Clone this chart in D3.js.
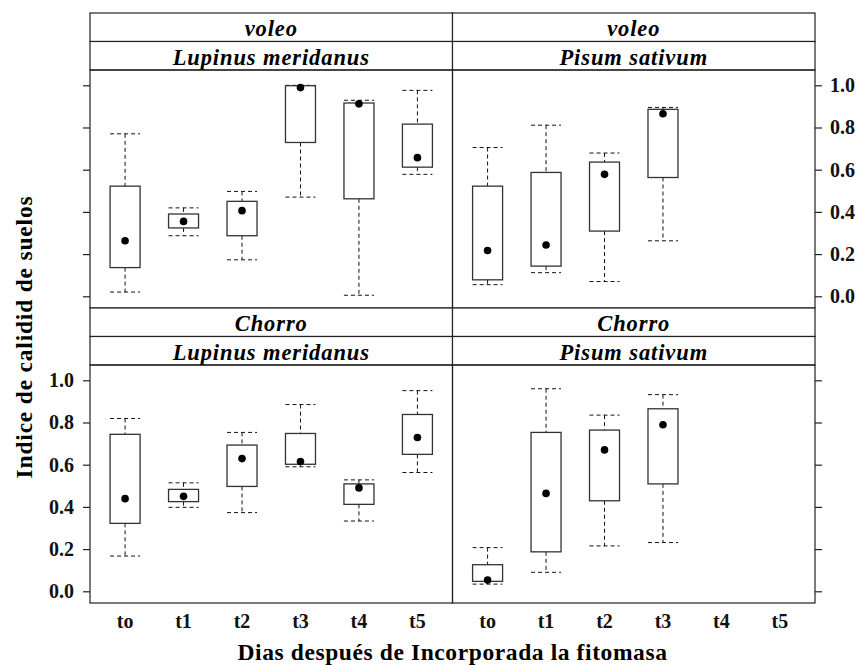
<!DOCTYPE html>
<html>
<head>
<meta charset="utf-8">
<script src="https://cdn.jsdelivr.net/npm/d3@7"></script>
<style>
body { margin: 0; background: #fff; }
text { font-family: "Liberation Serif", "Times New Roman", serif; font-weight: bold; }
</style>
</head>
<body>
<div id="chart"></div>
<script>
// categories (dias)
var dias = ["to", "t1", "t2", "t3", "t4", "t5"];
var yTicks = [0.0, 0.2, 0.4, 0.6, 0.8, 1.0];
var metodos = ["voleo", "Chorro"];
var especies = ["Lupinus meridanus", "Pisum sativum"];

// each row: [bigote inferior, Q1, Q3, bigote superior, punto]
var voleoLupinus = [
  [0.02, 0.136, 0.522, 0.77, 0.263],
  [0.287, 0.324, 0.39, 0.419, 0.355],
  [0.173, 0.287, 0.45, 0.497, 0.406],
  [0.47, 0.729, 0.998, 1.0, 0.989],
  [0.005, 0.462, 0.916, 0.929, 0.912],
  [0.578, 0.612, 0.816, 0.976, 0.657]
];
var voleoPisum = [
  [0.055, 0.078, 0.522, 0.705, 0.217],
  [0.112, 0.143, 0.587, 0.811, 0.243],
  [0.07, 0.309, 0.636, 0.679, 0.578],
  [0.263, 0.563, 0.886, 0.895, 0.865]
];
var chorroLupinus = [
  [0.167, 0.322, 0.744, 0.819, 0.439],
  [0.398, 0.425, 0.483, 0.514, 0.45],
  [0.373, 0.497, 0.693, 0.753, 0.629],
  [0.59, 0.602, 0.748, 0.885, 0.615],
  [0.333, 0.412, 0.509, 0.528, 0.49],
  [0.563, 0.649, 0.838, 0.951, 0.729]
];
var chorroPisum = [
  [0.034, 0.047, 0.126, 0.207, 0.053],
  [0.09, 0.187, 0.753, 0.96, 0.464],
  [0.215, 0.429, 0.764, 0.835, 0.67],
  [0.231, 0.509, 0.865, 0.932, 0.789]
];

var width = 857, height = 665;
var mLeft = 90, mRight = 815, mTop = 13;
var stripH = 28.5, panelH = 238;
var panelW = (mRight - mLeft) / 2;
var tickSize = 20;   // numeros de los ejes
var stripSize = 22.5; // texto de las tiras
var titleSize = 23.5; // titulos de ejes

var svg = d3.select("#chart").append("svg")
  .attr("width", width)
  .attr("height", height);

var x = d3.scalePoint()
  .domain(dias)
  .range([0, panelW])
  .padding(0.6);

var y = d3.scaleLinear()
  .domain([-0.0555, 1.0725])
  .range([panelH, 0]);

var boxW = 30;

// panels: row 0 = voleo, row 1 = Chorro
var paneles = [
  {row: 0, col: 0, data: voleoLupinus},
  {row: 0, col: 1, data: voleoPisum},
  {row: 1, col: 0, data: chorroLupinus},
  {row: 1, col: 1, data: chorroPisum}
];

paneles.forEach(function(p) {
  var px = mLeft + p.col * panelW;
  var py = mTop + p.row * (2 * stripH + panelH);

  var g = svg.append("g").attr("transform", "translate(" + px + "," + py + ")");

  // strips
  [metodos[p.row], especies[p.col]].forEach(function(lab, i) {
    g.append("rect")
      .attr("x", 0).attr("y", i * stripH)
      .attr("width", panelW).attr("height", stripH)
      .attr("fill", "#fff").attr("stroke", "#222").attr("stroke-width", 1.2);
    g.append("text")
      .attr("x", panelW / 2).attr("y", i * stripH + 23)
      .attr("text-anchor", "middle")
      .attr("font-style", "italic")
      .attr("font-size", stripSize + "px")
      .attr("letter-spacing", "0.9px")
      .text(lab);
  });

  var pg = g.append("g").attr("transform", "translate(0," + (2 * stripH) + ")");

  // borde del panel
  pg.append("rect")
    .attr("width", panelW).attr("height", panelH)
    .attr("fill", "none").attr("stroke", "#222").attr("stroke-width", 1.2);

  // eje y: izquierda en columna 0, derecha en columna 1
  var showLabels = (p.col == 0 && p.row == 1) || (p.col == 1 && p.row == 0);
  var axis = (p.col == 0 ? d3.axisLeft(y) : d3.axisRight(y))
    .tickValues(yTicks)
    .tickSize(7)
    .tickFormat(showLabels ? d3.format(".1f") : "");
  var ax = pg.append("g")
    .attr("transform", "translate(" + (p.col == 0 ? 0 : panelW) + ",0)")
    .call(axis);
  ax.select(".domain").remove();
  ax.selectAll("line").attr("stroke", "#222").attr("stroke-width", 1.2);
  ax.selectAll("text")
    .attr("font-size", tickSize + "px")
    .attr("font-family", null)
    .attr("fill", "#111")
    .attr("x", p.col == 0 ? -16 : 15);

  // eje x en la fila inferior
  if (p.row == 1) {
    pg.selectAll(".xlab").data(dias).enter()
      .append("text")
      .attr("class", "xlab")
      .attr("x", function(d) { return x(d); })
      .attr("y", panelH + 25)
      .attr("text-anchor", "middle")
      .attr("font-size", tickSize + "px")
      .attr("fill", "#111")
      .text(function(d) { return d; });
  }

  // cajas
  var box = pg.selectAll(".box").data(p.data).enter()
    .append("g")
    .attr("class", "box")
    .attr("transform", function(d, i) { return "translate(" + x(dias[i]) + ",0)"; });

  // bigotes (linea punteada)
  box.append("line")
    .attr("x1", 0).attr("x2", 0)
    .attr("y1", function(d) { return y(d[3]); })
    .attr("y2", function(d) { return y(d[2]); })
    .attr("stroke", "#111").attr("stroke-dasharray", "4,3");
  box.append("line")
    .attr("x1", 0).attr("x2", 0)
    .attr("y1", function(d) { return y(d[1]); })
    .attr("y2", function(d) { return y(d[0]); })
    .attr("stroke", "#111").attr("stroke-dasharray", "4,3");
  [0, 3].forEach(function(k) {
    box.append("line")
      .attr("x1", -boxW / 2).attr("x2", boxW / 2)
      .attr("y1", function(d) { return y(d[k]); })
      .attr("y2", function(d) { return y(d[k]); })
      .attr("stroke", "#111").attr("stroke-dasharray", "4,3");
  });

  box.append("rect")
    .attr("x", -boxW / 2)
    .attr("y", function(d) { return y(d[2]); })
    .attr("width", boxW)
    .attr("height", function(d) { return y(d[1]) - y(d[2]); })
    .attr("fill", "#fff")
    .attr("stroke", "#333").attr("stroke-width", 1.3);

  box.append("circle")
    .attr("cy", function(d) { return y(d[4]); })
    .attr("r", 3.8)
    .attr("fill", "#000");
});

// titulos de ejes
svg.append("text")
  .attr("x", 452.5)
  .attr("y", 660)
  .attr("text-anchor", "middle")
  .attr("font-size", titleSize + "px")
  .attr("letter-spacing", "0.6px")
  .text("Dias después de Incorporada la fitomasa");

svg.append("text")
  .attr("transform", "translate(32,337) rotate(-90)")
  .attr("text-anchor", "middle")
  .attr("font-size", titleSize + "px")
  .attr("letter-spacing", "0.8px")
  .text("Indice de calidid de suelos");
</script>
</body>
</html>
